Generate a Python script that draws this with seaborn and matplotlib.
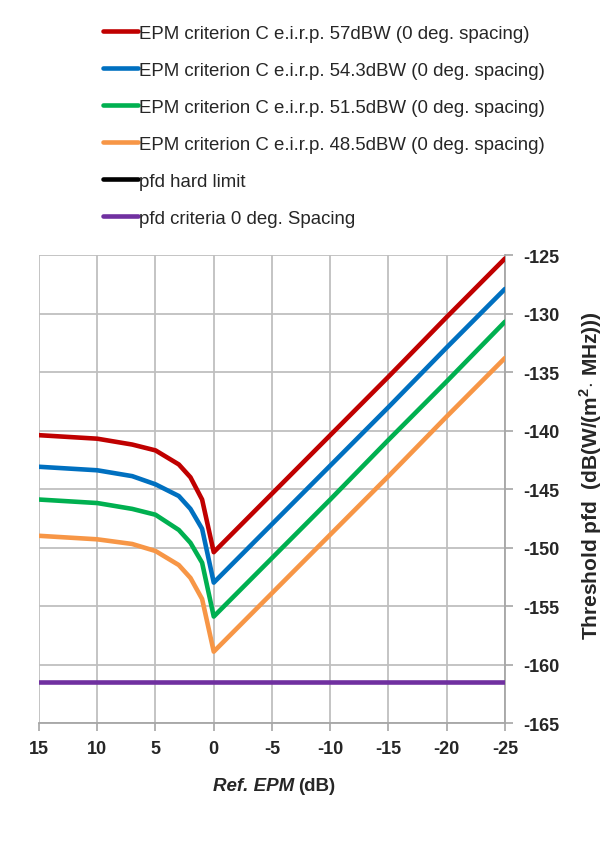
import numpy as np
import pandas as pd
import matplotlib
matplotlib.use("Agg")
import matplotlib.pyplot as plt
import seaborn as sns

# Reference EPM (dB) sample points
epm = [15, 10, 7, 5, 3, 2, 1, 0, -5, -10, -15, -20, -25]

# Threshold pfd for each e.i.r.p. (dB(W/(m2.MHz)))
pfd_57 = [-140.4, -140.7, -141.2, -141.7, -142.9, -144.0, -145.9, -150.4, -145.4, -140.4, -135.4, -130.3, -125.3]
pfd_543 = [-143.1, -143.4, -143.9, -144.6, -145.6, -146.7, -148.4, -153.0, -148.0, -143.0, -138.0, -132.9, -127.9]
pfd_515 = [-145.9, -146.2, -146.7, -147.2, -148.5, -149.6, -151.3, -155.9, -150.9, -145.9, -140.8, -135.8, -130.7]
pfd_485 = [-149.0, -149.3, -149.7, -150.3, -151.5, -152.6, -154.4, -158.9, -153.9, -148.9, -143.9, -138.8, -133.8]

# Flat limits
limit_epm = [15, -25]
hard_limit = [-170.0, -170.0]
criteria_0deg = [-161.5, -161.5]

labels = [
    "EPM criterion C e.i.r.p. 57dBW (0 deg. spacing)",
    "EPM criterion C e.i.r.p. 54.3dBW (0 deg. spacing)",
    "EPM criterion C e.i.r.p. 51.5dBW (0 deg. spacing)",
    "EPM criterion C e.i.r.p. 48.5dBW (0 deg. spacing)",
    "pfd hard limit",
    "pfd criteria 0 deg. Spacing",
]
colors = ["#C00000", "#0070C0", "#00B050", "#F79646", "#000000", "#7030A0"]

series = [pfd_57, pfd_543, pfd_515, pfd_485]
frames = [pd.DataFrame({"epm": epm, "pfd": s, "series": lab}) for s, lab in zip(series, labels[:4])]
frames.append(pd.DataFrame({"epm": limit_epm, "pfd": hard_limit, "series": labels[4]}))
frames.append(pd.DataFrame({"epm": limit_epm, "pfd": criteria_0deg, "series": labels[5]}))
df = pd.concat(frames, ignore_index=True)

sns.set_theme(style="white")
plt.rcParams["font.family"] = ["Liberation Sans", "DejaVu Sans"]
plt.rcParams["mathtext.fontset"] = "custom"
plt.rcParams["mathtext.rm"] = "Liberation Sans:bold"
plt.rcParams["mathtext.bf"] = "Liberation Sans:bold"

fig = plt.figure(figsize=(6.15, 8.54), dpi=100)
ax = fig.add_axes([39 / 615, 1 - 724 / 854, (505 - 39) / 615, (724 - 256) / 854])

sns.lineplot(data=df, x="epm", y="pfd", hue="series", hue_order=labels,
             palette=dict(zip(labels, colors)), linewidth=3.3, sort=False,
             estimator=None, ax=ax, legend=False, zorder=3)

ax.set_xlim(15, -25)
ax.set_ylim(-165, -125)
xt = np.arange(15, -26, -5)
yt = np.arange(-165, -124, 5)
ax.set_xticks(xt)
ax.set_yticks(yt)
ax.set_xticklabels([f"{v:d}" for v in xt])
ax.set_yticklabels([f"{v:d}" for v in yt])
ax.grid(True, color="#BFBFBF", linewidth=1.3)
for sp in ax.spines.values():
    sp.set_visible(False)
for side in ("bottom", "right"):
    ax.spines[side].set_visible(True)
    ax.spines[side].set_color("#A6A6A6")
    ax.spines[side].set_linewidth(1.3)

ax.yaxis.tick_right()
ax.yaxis.set_label_position("right")
ax.tick_params(axis="both", which="major", direction="out", length=6, width=1.2,
               color="#A6A6A6", labelsize=13)
ax.tick_params(axis="y", right=True, left=False, pad=7)
ax.tick_params(axis="x", bottom=True, pad=6)
for t in ax.get_xticklabels() + ax.get_yticklabels():
    t.set_fontweight("bold")

ax.set_xlabel("")
ax.set_ylabel("Threshold pfd  (dB(W/(m$^{2}$$\\cdot$ MHz)))", fontsize=15,
              fontweight="bold")
ax.yaxis.set_label_coords(1.155, 0.53)

# x-axis title: italic quantity name followed by unit
fig.text(294 / 615, 1 - 787 / 854, "Ref. EPM", fontsize=13.5, fontweight="bold",
         fontstyle="italic", ha="right", va="center")
fig.text(298 / 615, 1 - 787 / 854, "(dB)", fontsize=13.5, fontweight="bold",
         ha="left", va="center")

handles = [plt.Line2D([], [], color=c, linewidth=3.3) for c in colors]
fig.legend(handles, labels, loc="upper left", bbox_to_anchor=(96 / 615, 1 - 18.5 / 854),
           frameon=False, fontsize=13.4, handlelength=1.85, handletextpad=0.05,
           labelspacing=1.07, borderaxespad=0)

fig.savefig("out.png", dpi=100)
